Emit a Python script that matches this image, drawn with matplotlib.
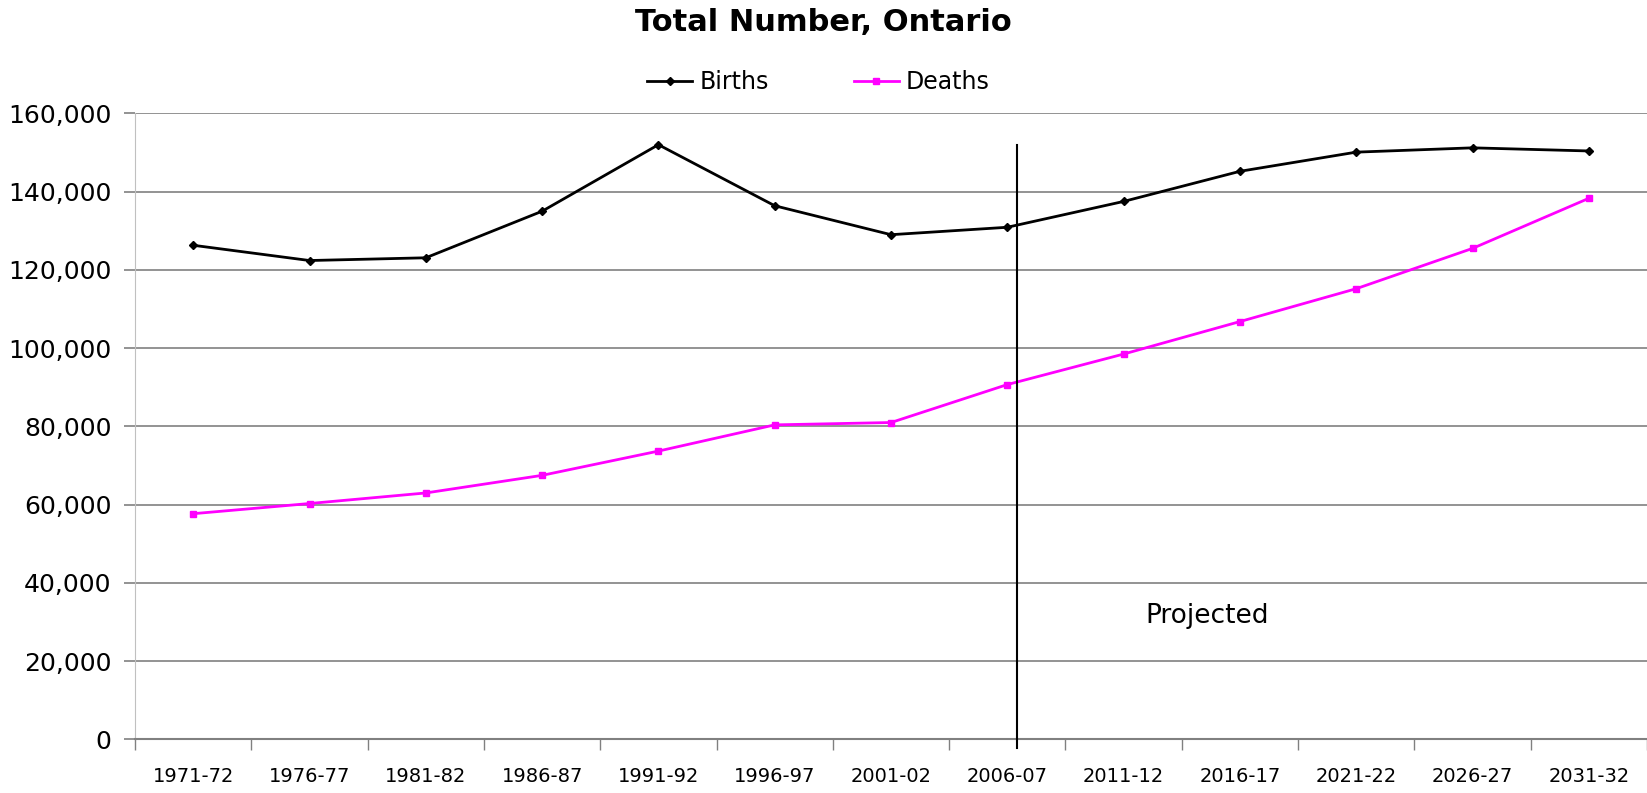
import matplotlib.pyplot as plt
import numpy as np
from matplotlib.ticker import FuncFormatter, FixedLocator

periods = ["1971-72", "1976-77", "1981-82", "1986-87", "1991-92", "1996-97", "2001-02",
           "2006-07", "2011-12", "2016-17", "2021-22", "2026-27", "2031-32"]
births = [126300, 122400, 123100, 135000, 152000, 136400, 129000,
          130900, 137500, 145200, 150100, 151200, 150400]
deaths = [57700, 60300, 63000, 67500, 73700, 80400, 81000,
          90700, 98500, 106800, 115200, 125500, 138300]
y_ticks = [0, 20000, 40000, 60000, 80000, 100000, 120000, 140000, 160000]

plt.rcParams['font.family'] = ['DejaVu Sans']

fig = plt.figure(figsize=(16.47, 7.93), dpi=100)
ax = fig.add_axes([0.082, 0.0675, 0.918, 0.7895])

x = np.arange(len(periods))
ax.plot(x, births, color='black', lw=2, marker='D', ms=4, label='Births', zorder=3)
ax.plot(x, deaths, color='#ff00ff', lw=2, marker='s', ms=4.5, label='Deaths', zorder=3)

ax.set_xlim(-0.5, len(periods) - 0.5)
ax.set_ylim(0, 160000)
ax.set_yticks(y_ticks)
ax.yaxis.set_major_formatter(FuncFormatter(lambda v, p: f"{int(v):,}"))
ax.yaxis.grid(True, color='#808080', lw=1.2)
ax.set_axisbelow(True)

# category labels at centres, tick marks between categories
ax.xaxis.set_major_locator(FixedLocator(np.arange(-0.5, len(periods), 1.0)))
ax.xaxis.set_major_formatter(FuncFormatter(lambda v, p: ""))
ax.xaxis.set_minor_locator(FixedLocator(x))
ax.set_xticklabels(periods, minor=True)
ax.tick_params(axis='x', which='major', length=8, color='#808080', width=1)
ax.tick_params(axis='x', which='minor', length=0, pad=20, labelsize=14)
ax.tick_params(axis='y', length=8, color='#808080', width=1.2, labelsize=18, pad=9)

for s in ['top', 'right']:
    ax.spines[s].set_visible(False)
ax.spines['left'].set_color('#c0c0c0')
ax.spines['bottom'].set_color('#808080')
ax.spines['bottom'].set_linewidth(1.5)

# start of projections
ax.plot([7.08, 7.08], [0 - 2300, 152000], color='black', lw=1.5, clip_on=False, zorder=4)
ax.text(8.72, 31500, "Projected", fontsize=19, ha='center', va='center')

ax.legend(loc='center', bbox_to_anchor=(0.452, 1.05), ncol=2, frameon=False,
          fontsize=17, handlelength=1.9, columnspacing=3.6, handletextpad=0.3)
fig.suptitle("Total Number, Ontario", fontsize=22, fontweight='bold', x=0.5, y=0.99)

fig.savefig("out.png", dpi=100)
